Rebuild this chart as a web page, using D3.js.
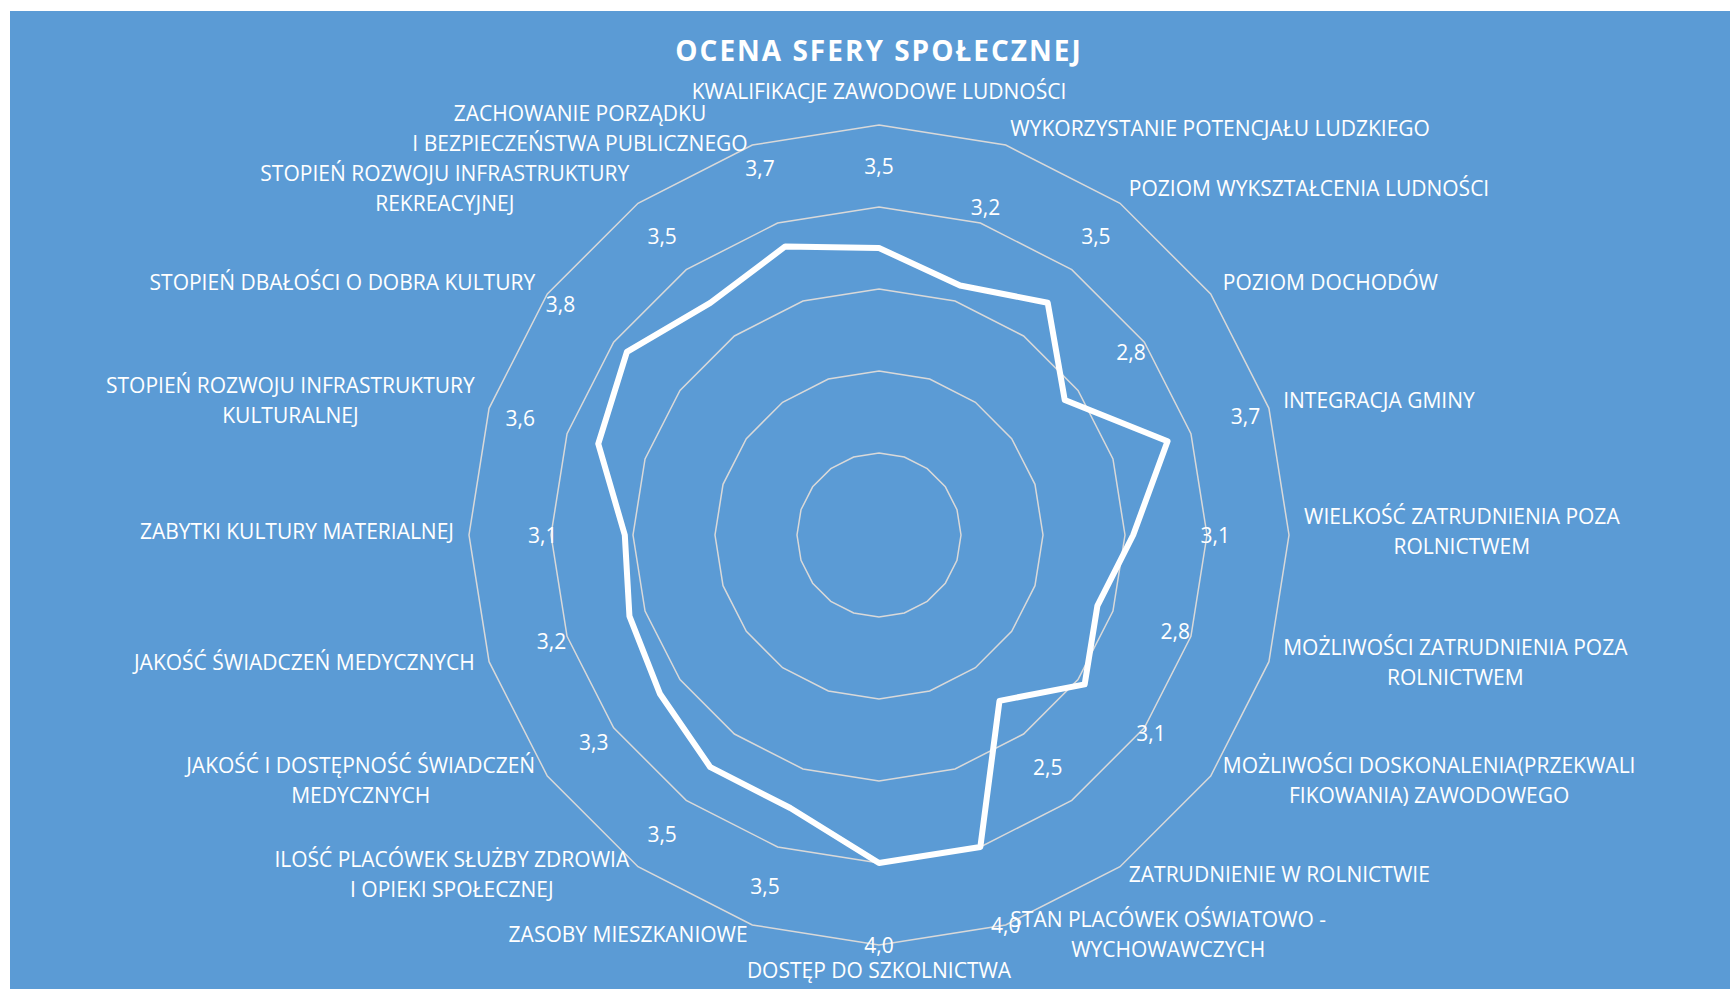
<!DOCTYPE html>
<html lang="pl">
<head>
  <meta charset="utf-8">
  <script src="https://d3js.org/d3.v7.min.js"></script>
  <style>
    body { margin: 0; background: #fff; }
    text { font-family: "Open Sans", "Noto Sans", sans-serif; fill: #fff; }
  </style>
</head>
<body>
<svg width="1730" height="989"></svg>
<script>
// categories (clockwise from the top), "\n" = line break in the label
var categories = [
  "KWALIFIKACJE ZAWODOWE LUDNOŚCI",
  "WYKORZYSTANIE POTENCJAŁU LUDZKIEGO",
  "POZIOM WYKSZTAŁCENIA LUDNOŚCI",
  "POZIOM DOCHODÓW",
  "INTEGRACJA GMINY",
  "WIELKOŚĆ ZATRUDNIENIA POZA\nROLNICTWEM",
  "MOŻLIWOŚCI ZATRUDNIENIA POZA\nROLNICTWEM",
  "MOŻLIWOŚCI DOSKONALENIA(PRZEKWALI\nFIKOWANIA) ZAWODOWEGO",
  "ZATRUDNIENIE W ROLNICTWIE",
  "STAN PLACÓWEK OŚWIATOWO -\nWYCHOWAWCZYCH",
  "DOSTĘP DO SZKOLNICTWA",
  "ZASOBY MIESZKANIOWE",
  "ILOŚĆ PLACÓWEK SŁUŻBY ZDROWIA\nI OPIEKI SPOŁECZNEJ",
  "JAKOŚĆ I DOSTĘPNOŚĆ ŚWIADCZEŃ\nMEDYCZNYCH",
  "JAKOŚĆ ŚWIADCZEŃ MEDYCZNYCH",
  "ZABYTKI KULTURY MATERIALNEJ",
  "STOPIEŃ ROZWOJU INFRASTRUKTURY\nKULTURALNEJ",
  "STOPIEŃ DBAŁOŚCI O DOBRA KULTURY",
  "STOPIEŃ ROZWOJU INFRASTRUKTURY\nREKREACYJNEJ",
  "ZACHOWANIE PORZĄDKU\nI BEZPIECZEŃSTWA PUBLICZNEGO"
];
var values = [3.5, 3.2, 3.5, 2.8, 3.7, 3.1, 2.8, 3.1, 2.5, 4.0,
              4.0, 3.5, 3.5, 3.3, 3.2, 3.1, 3.6, 3.8, 3.5, 3.7];
var ringTicks = [1, 2, 3, 4, 5];
var title = "OCENA SFERY SPOŁECZNEJ";

var svg = d3.select("svg");
var cx = 879, cy = 535, R = 410;

svg.append("rect")
  .attr("x", 10).attr("y", 11)
  .attr("width", 1720).attr("height", 978)
  .attr("fill", "#5B9BD5");

svg.append("text")
  .attr("x", cx).attr("y", 61)
  .attr("text-anchor", "middle")
  .attr("font-size", "28px")
  .attr("font-weight", "bold")
  .attr("letter-spacing", "2px")
  .text(title);

var r = d3.scaleLinear().domain([0, 5]).range([0, R]);
var angle = d3.scaleLinear().domain([0, categories.length]).range([0, 2 * Math.PI]);
var idx = d3.range(categories.length);

var g = svg.append("g").attr("transform", "translate(" + cx + "," + cy + ")");

// rings
g.selectAll(".ring")
  .data(ringTicks)
  .enter().append("path")
  .attr("class", "ring")
  .attr("fill", "none")
  .attr("stroke", "#D9D9D9")
  .attr("stroke-width", 1.5)
  .attr("d", function(t) {
    return d3.lineRadial()
      .angle(function(i) { return angle(i); })
      .radius(r(t))
      .curve(d3.curveLinearClosed)(idx);
  });

// data line
g.append("path")
  .datum(values)
  .attr("fill", "none")
  .attr("stroke", "#fff")
  .attr("stroke-width", 6)
  .attr("stroke-linejoin", "round")
  .attr("d", d3.lineRadial()
    .angle(function(d, i) { return angle(i); })
    .radius(function(d) { return r(d); })
    .curve(d3.curveLinearClosed));

// value labels, one unit outside the point
g.selectAll(".val")
  .data(values)
  .enter().append("text")
  .attr("class", "val")
  .attr("x", function(d, i) { return r(d + 1) * Math.sin(angle(i)); })
  .attr("y", function(d, i) { return -r(d + 1) * Math.cos(angle(i)); })
  .attr("text-anchor", "middle")
  .attr("dominant-baseline", "central")
  .attr("font-size", "21px")
  .text(function(d) { return d.toFixed(1).replace(".", ","); });

// category labels
var lineH = 30;
categories.forEach(function(c, i) {
  var a = angle(i), s = Math.sin(a), co = Math.cos(a);
  var vx = R * s, vy = -R * co;
  var lines = c.split("\n");
  var t = g.append("text")
    .attr("class", "cat")
    .attr("text-anchor", "middle")
    .attr("dominant-baseline", "central")
    .attr("font-size", "21px");
  var spans = lines.map(function(l) { return t.append("tspan").text(l); });
  var w = d3.max(spans, function(sp) { return sp.node().getComputedTextLength(); });
  var h = lines.length * lineH;
  var bx, by;
  if (Math.abs(s) < 0.05) {
    bx = vx;
    by = co > 0 ? vy - (h / 2 + 15) : vy + (h / 2 + 14);
  } else {
    bx = s > 0 ? vx + 15 * s + w / 2 : vx + 15 * s - w / 2;
    by = vy - 14 * co;
  }
  by -= 4;
  spans.forEach(function(sp, j) {
    sp.attr("x", bx).attr("y", by + (j - (lines.length - 1) / 2) * lineH);
  });
});
</script>
</body>
</html>
